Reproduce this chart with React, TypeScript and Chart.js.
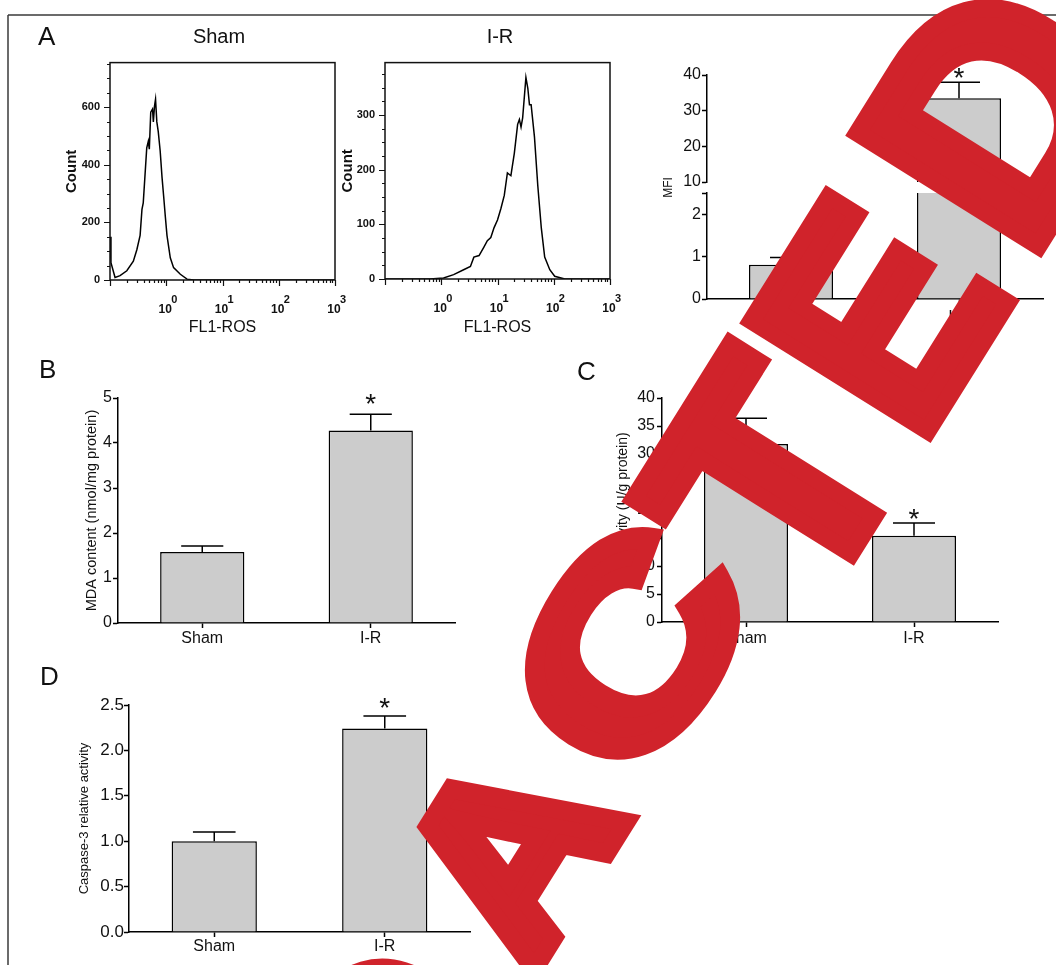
import React, { useEffect, useRef } from 'react';
import { Chart, registerables } from 'chart.js';

Chart.register(...registerables);

const FONT = '"Liberation Sans", Arial, Helvetica, sans-serif';
Chart.defaults.font.family = FONT;
Chart.defaults.color = '#1a1a1a';

// ---------------- data ----------------
const groups = ['Sham', 'I-R'];
const significance = ['', '*'];

const mfiMean = [0.81, 33.5];
const mfiErr = [0.17, 4.5];
const mfiUpperTicks = [10, 20, 30, 40];
const mfiLowerTicks = [0, 1, 2, 2.5];

const mdaMean = [1.58, 4.28];
const mdaErr = [0.13, 0.36];

const catMean = [31.8, 15.4];
const catErr = [4.6, 2.3];

const caspMean = [1.0, 2.24];
const caspErr = [0.1, 0.14];

const shamFluor = [0.1, 0.104, 0.123, 0.151, 0.199, 0.26, 0.3, 0.343, 0.37, 0.39, 0.45, 0.48, 0.5, 0.53, 0.57, 0.59, 0.62, 0.645, 0.68, 0.72, 0.78, 0.84, 0.9, 0.96, 1.03, 1.18, 1.35, 1.78, 2.34, 3.1, 1000];
const shamCount = [150, 60, 9, 15, 32, 65, 105, 155, 245, 268, 459, 482, 454, 583, 594, 549, 606, 628, 549, 516, 448, 358, 290, 223, 155, 77, 43, 20, 3, 0, 0];

const irFluor = [0.1, 0.63, 1.1, 1.66, 2.5, 3.3, 3.8, 4.7, 5.7, 6.6, 7.6, 8.7, 10, 11.5, 13.2, 15, 17.3, 19.9, 22.8, 24.5, 26.2, 28, 32, 34.6, 37, 39.6, 45.4, 52, 60, 69, 85, 104, 157, 1000];
const irCount = [0, 0, 2, 8, 17, 23, 40, 43, 58, 70, 76, 94, 108, 129, 153, 194, 189, 230, 283, 292, 278, 295, 369, 349, 319, 319, 260, 171, 94, 40, 17, 5, 0, 0];

const shamCountTicks = [0, 200, 400, 600];
const irCountTicks = [0, 100, 200, 300];
const decadeExponents = [0, 1, 2, 3];

// ---------------- plugins ----------------
const histFrame = {
  id: 'histFrame',
  afterDraw(chart: any, _args: any, opts: any) {
    const { ctx, chartArea: a, scales } = chart;
    const x = scales.x, y = scales.y;
    ctx.save();
    ctx.strokeStyle = '#111';
    ctx.lineWidth = 1.5;
    ctx.strokeRect(a.left, a.top, a.right - a.left, a.bottom - a.top);
    ctx.lineWidth = 1.2;
    ctx.beginPath();
    for (let v = 0; v <= y.max + 1e-6; v += opts.minorStep) {
      const py = Math.round(y.getPixelForValue(v)) + 0.5;
      const len = opts.majors.includes(v) ? 6 : 3;
      ctx.moveTo(a.left - len, py);
      ctx.lineTo(a.left, py);
    }
    const e0 = Math.round(Math.log10(x.min));
    const e1 = Math.round(Math.log10(x.max));
    for (let e = e0; e <= e1; e++) {
      for (let m = 1; m <= 9; m++) {
        if (e === e1 && m > 1) break;
        const px = Math.round(x.getPixelForValue(m * Math.pow(10, e))) + 0.5;
        const len = m === 1 ? 6 : 3;
        ctx.moveTo(px, a.bottom);
        ctx.lineTo(px, a.bottom + len);
      }
    }
    ctx.stroke();
    ctx.fillStyle = '#111';
    ctx.textBaseline = 'alphabetic';
    for (const e of opts.labelExponents) {
      const px = x.getPixelForValue(Math.pow(10, e));
      ctx.font = 'bold 12px ' + FONT;
      ctx.textAlign = 'center';
      ctx.fillText('10', px - 1, a.bottom + 33);
      ctx.font = 'bold 11px ' + FONT;
      ctx.textAlign = 'left';
      ctx.fillText(String(e), px + 5, a.bottom + 23);
    }
    ctx.restore();
  },
};

const scaleClip = {
  id: 'scaleClip',
  beforeDatasetDraw(chart: any, args: any) {
    const ys = chart.scales[args.meta.yAxisID];
    const a = chart.chartArea;
    chart.ctx.save();
    chart.ctx.beginPath();
    chart.ctx.rect(a.left - 3, ys.top, a.right - a.left + 6, ys.bottom - ys.top);
    chart.ctx.clip();
  },
  afterDatasetDraw(chart: any) {
    chart.ctx.restore();
  },
};

const errorBars = {
  id: 'errorBars',
  afterDatasetsDraw(chart: any, _args: any, opts: any) {
    const { ctx } = chart;
    ctx.save();
    chart.data.datasets.forEach((ds: any, i: number) => {
      if (!ds.errors) return;
      const meta = chart.getDatasetMeta(i);
      const ys = chart.scales[meta.yAxisID];
      meta.data.forEach((bar: any, j: number) => {
        const v = ds.data[j];
        const e = ds.errors[j];
        if (v == null || e == null) return;
        if (v < ys.min || v > ys.max) return;
        const top = ys.getPixelForValue(v + e);
        const half = bar.width / 4;
        ctx.strokeStyle = '#000';
        ctx.lineWidth = 1.5;
        ctx.beginPath();
        ctx.moveTo(bar.x, bar.y);
        ctx.lineTo(bar.x, top);
        ctx.moveTo(bar.x - half, top);
        ctx.lineTo(bar.x + half, top);
        ctx.stroke();
        const star = ds.stars && ds.stars[j];
        if (star) {
          ctx.font = (opts.starSize || 28) + 'px ' + FONT;
          ctx.fillStyle = '#111';
          ctx.textAlign = 'center';
          ctx.textBaseline = 'alphabetic';
          const m = ctx.measureText(star);
          const asc = m.actualBoundingBoxAscent;
          const desc = m.actualBoundingBoxDescent;
          const cy = top - opts.starGap;
          ctx.fillText(star, bar.x, cy + (asc - desc) / 2);
        }
      });
    });
    ctx.restore();
  },
};

// ---------------- config helpers ----------------
const barStyle = {
  backgroundColor: '#cccccc',
  borderColor: '#000',
  borderWidth: 1.5,
  barPercentage: 0.5,
  categoryPercentage: 1,
  grouped: false,
  clip: 0,
};

function catX(height: number, padding: number) {
  return {
    type: 'category',
    offset: true,
    grid: { display: true, drawOnChartArea: false, offset: false, tickLength: 5, tickWidth: 1.5, tickColor: '#000' },
    border: { color: '#000', width: 1.5 },
    ticks: { font: { size: 16 }, color: '#111', padding, maxRotation: 0, autoSkip: false },
    afterFit: (s: any) => { s.height = height; },
  };
}

function valY(o: any) {
  return {
    type: 'linear',
    position: 'left',
    min: o.min,
    max: o.max,
    ticks: { stepSize: o.step, autoSkip: false, font: { size: o.fontSize || 16 }, color: '#111', padding: o.padding ?? 1, callback: o.callback },
    grid: { display: true, drawOnChartArea: false, tickLength: 5, tickWidth: 1.5, tickColor: '#000' },
    border: { color: '#000', width: 1.5 },
    title: o.title
      ? { display: true, text: o.title, font: { size: o.titleSize || 12 }, color: '#111', padding: { top: o.titlePad, bottom: 0 } }
      : { display: false },
    afterFit: (s: any) => { s.width = o.width; },
  };
}

const baseOptions = {
  responsive: false,
  animation: false,
  events: [],
  plugins: { legend: { display: false }, tooltip: { enabled: false } },
};

function histConfig(fluor: number[], count: number[], yMax: number, majors: number[], minorStep: number, yWidth: number, xHeight: number, titlePad: number) {
  return {
    type: 'line',
    data: {
      datasets: [
        {
          data: fluor.map((f, i) => ({ x: f, y: count[i] })),
          borderColor: '#000',
          borderWidth: 1.5,
          pointRadius: 0,
          tension: 0,
          fill: false,
        },
      ],
    },
    options: {
      ...baseOptions,
      layout: { padding: { top: 10, right: 15, left: 0, bottom: 0 } },
      plugins: {
        ...baseOptions.plugins,
        histFrame: { majors, minorStep, labelExponents: decadeExponents },
      },
      scales: {
        x: {
          type: 'logarithmic',
          min: 0.1,
          max: 1000,
          ticks: { display: false },
          grid: { display: false, drawTicks: false },
          border: { display: false },
          title: { display: true, text: 'FL1-ROS', font: { size: 16 }, color: '#111', padding: { top: 0, bottom: 9 } },
          afterFit: (s: any) => { s.height = xHeight; },
        },
        y: {
          type: 'linear',
          min: 0,
          max: yMax,
          afterBuildTicks: (s: any) => { s.ticks = majors.map((v) => ({ value: v })); },
          ticks: { autoSkip: false, font: { size: 11, weight: 'bold' }, color: '#111', padding: 10 },
          grid: { display: false, drawTicks: false },
          border: { display: false },
          title: { display: true, text: 'Count', font: { size: 15, weight: 'bold' }, color: '#111', padding: { top: titlePad, bottom: 0 } },
          afterFit: (s: any) => { s.width = yWidth; },
        },
      },
    },
    plugins: [histFrame],
  };
}

function simpleBarConfig(o: any) {
  return {
    type: 'bar',
    data: {
      labels: groups,
      datasets: [{ data: o.mean, errors: o.err, stars: significance, ...barStyle }],
    },
    options: {
      ...baseOptions,
      layout: { padding: { top: o.padTop, right: o.padRight, left: 0, bottom: 0 } },
      plugins: { ...baseOptions.plugins, errorBars: { starGap: o.starGap, starSize: 28 } },
      scales: {
        x: catX(o.xHeight, o.xPad),
        y: valY(o.y),
      },
    },
    plugins: [errorBars],
  };
}

function mfiConfig() {
  const axisCommon = {
    type: 'linear',
    position: 'left',
    stack: 'mfi',
    grid: { display: true, drawOnChartArea: false, tickLength: 5, tickWidth: 1.5, tickColor: '#000' },
    border: { color: '#000', width: 1.5 },
    afterFit: (s: any) => { s.width = 67; },
  };
  return {
    type: 'bar',
    data: {
      labels: groups,
      datasets: [
        { data: mfiMean, errors: mfiErr, stars: significance, yAxisID: 'yTop', ...barStyle },
        { data: mfiMean, errors: mfiErr, stars: significance, yAxisID: 'yBot', ...barStyle },
      ],
    },
    options: {
      ...baseOptions,
      layout: { padding: { top: 15, right: 7, left: 0, bottom: 0 } },
      plugins: { ...baseOptions.plugins, errorBars: { starGap: 9, starSize: 28 } },
      scales: {
        x: catX(36, 4),
        yTop: {
          ...axisCommon,
          weight: 3,
          stackWeight: 107,
          min: 10,
          max: 40,
          afterBuildTicks: (s: any) => { s.ticks = mfiUpperTicks.map((v) => ({ value: v })); },
          ticks: { autoSkip: false, font: { size: 16 }, color: '#111', padding: 1 },
        },
        yGap: {
          type: 'linear',
          position: 'left',
          stack: 'mfi',
          weight: 2,
          stackWeight: 11,
          min: 0,
          max: 1,
          ticks: { display: false },
          grid: { display: false, drawTicks: false },
          border: { display: false },
          title: { display: true, text: 'MFI', font: { size: 12 }, color: '#111', padding: { top: 21, bottom: 0 } },
          afterFit: (s: any) => { s.width = 67; },
        },
        yBot: {
          ...axisCommon,
          weight: 1,
          stackWeight: 106,
          min: 0,
          max: 2.5,
          afterBuildTicks: (s: any) => { s.ticks = mfiLowerTicks.map((v) => ({ value: v })); },
          ticks: { autoSkip: false, font: { size: 16 }, color: '#111', padding: 1, callback: (v: any) => (Number.isInteger(v) ? String(v) : '') },
        },
      },
    },
    plugins: [scaleClip, errorBars],
  };
}

// ---------------- components ----------------
function ChartBox({ left, top, width, height, make }: any) {
  const ref = useRef<HTMLCanvasElement>(null);
  useEffect(() => {
    const chart = new Chart(ref.current as HTMLCanvasElement, make());
    return () => chart.destroy();
  }, []);
  return (
    <canvas
      ref={ref}
      width={width}
      height={height}
      style={{ position: 'absolute', left, top, width, height }}
    />
  );
}

// ---------------- watermark ("REDACTED", rotated stamp) ----------------
// each glyph placed in a rotated frame: s = along the baseline, h = along the letter's up direction
const WM_ANGLE = -58;
const WM_RAD = (WM_ANGLE * Math.PI) / 180;
const WM_B = [Math.cos(WM_RAD), Math.sin(WM_RAD)];
const WM_U = [Math.sin(WM_RAD), -Math.cos(WM_RAD)];
const watermarkGlyphs = [
  { ch: 'R', s: -1075, h: -967, size: 242, kx: 1.0 },
  { ch: 'E', s: -875, h: -967, size: 242, kx: 1.0 },
  { ch: 'D', s: -688, h: -967, size: 242, kx: 1.05 },
  { ch: 'A', s: -452, h: -967, size: 242, kx: 1.07 },
  { ch: 'C', s: -216, h: -962, size: 246, kx: 1.3 },
  { ch: 'T', s: 4, h: -1015, size: 310, kx: 1.0 },
  { ch: 'E', s: 198, h: -1015, size: 302, kx: 0.9 },
  { ch: 'D', s: 433, h: -1011, size: 310, kx: 1.0 },
];

function Watermark() {
  return (
    <g fill="#d0232b" stroke="#d0232b" strokeWidth={18} strokeLinejoin="miter" fontFamily={FONT} fontWeight="bold">
      {watermarkGlyphs.map((g, i) => {
        const X = g.s * WM_B[0] + g.h * WM_U[0];
        const Y = g.s * WM_B[1] + g.h * WM_U[1];
        return (
          <text
            key={i}
            x={0}
            y={0}
            textAnchor="middle"
            fontSize={g.size}
            transform={`translate(${X.toFixed(1)} ${Y.toFixed(1)}) rotate(${WM_ANGLE}) scale(${g.kx} 1)`}
          >
            {g.ch}
          </text>
        );
      })}
    </g>
  );
}

export default function App() {
  return (
    <div style={{ position: 'absolute', left: 0, top: 0, width: 1056, height: 965, overflow: 'hidden', background: '#fff' }}>
      <ChartBox left={30} top={46} width={320} height={300}
        make={() => histConfig(shamFluor, shamCount, 755, shamCountTicks, 50, 80, 66, 33)} />
      <ChartBox left={305} top={46} width={320} height={300}
        make={() => histConfig(irFluor, irCount, 396, irCountTicks, 25, 80, 67, 34)} />
      <ChartBox left={640} top={60} width={410} height={275} make={mfiConfig} />
      <ChartBox left={30} top={385} width={440} height={275}
        make={() => simpleBarConfig({
          mean: mdaMean, err: mdaErr, padTop: 13, padRight: 15, xHeight: 37, xPad: 1, starGap: 15,
          y: { min: 0, max: 5, step: 1, width: 88, title: 'MDA content (nmol/mg protein)', titleSize: 14.5, titlePad: 53, fontSize: 16 },
        })} />
      <ChartBox left={570} top={385} width={440} height={275}
        make={() => simpleBarConfig({
          mean: catMean, err: catErr, padTop: 13, padRight: 12, xHeight: 38, xPad: 2, starGap: 9,
          y: { min: 0, max: 40, step: 5, width: 92, title: 'CAT activity (U/g protein)', titleSize: 14, titlePad: 44.5, fontSize: 16, padding: 2 },
        })} />
      <ChartBox left={30} top={692} width={450} height={273}
        make={() => simpleBarConfig({
          mean: caspMean, err: caspErr, padTop: 13, padRight: 10, xHeight: 33, xPad: 0, starGap: 13,
          y: { min: 0, max: 2.5, step: 0.5, width: 99, title: 'Caspase-3 relative activity', titleSize: 13, titlePad: 47, fontSize: 17, padding: 0,
            callback: (v: any) => Number(v).toFixed(1) },
        })} />
      <svg width={1056} height={965} style={{ position: 'absolute', left: 0, top: 0, pointerEvents: 'none' }}>
        <line x1={8} y1={15} x2={1056} y2={15} stroke="#3a3a3a" strokeWidth={1.5} />
        <line x1={8} y1={15} x2={8} y2={965} stroke="#3a3a3a" strokeWidth={1.5} />
        <g fontFamily={FONT} fill="#111">
          <text x={38} y={45} fontSize={26}>A</text>
          <text x={39} y={378} fontSize={26}>B</text>
          <text x={577} y={380} fontSize={26}>C</text>
          <text x={40} y={685} fontSize={26}>D</text>
          <text x={219} y={43} fontSize={20} textAnchor="middle">Sham</text>
          <text x={500} y={43} fontSize={20} textAnchor="middle">I-R</text>
        </g>
        <Watermark />
      </svg>
    </div>
  );
}
